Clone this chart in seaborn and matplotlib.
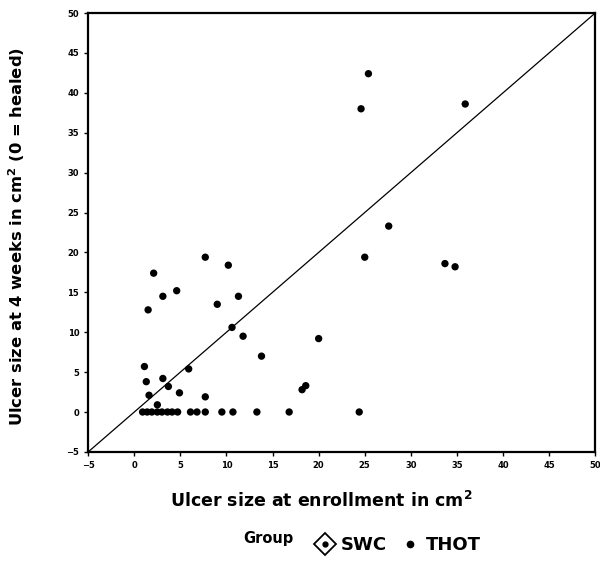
import matplotlib
matplotlib.use("Agg")
import matplotlib.pyplot as plt
from matplotlib.lines import Line2D
from matplotlib.legend_handler import HandlerTuple
import pandas as pd
import seaborn as sns

# ulcer size at enrollment (x) and at 4 weeks (y), cm^2
enroll = [25.4, 24.6, 35.9, 7.7, 10.2, 2.1, 4.6, 3.1, 11.3, 9.0, 1.5, 11.8, 10.6,
          27.6, 25.0, 33.7, 34.8, 20.0, 18.2, 18.6, 13.8, 1.1, 5.9, 1.3, 3.1,
          3.7, 4.9, 1.6, 7.7, 2.5,
          0.9, 1.4, 1.9, 2.5, 3.0, 3.6, 4.1, 4.7, 6.1, 6.8, 7.7, 9.5, 10.7,
          13.3, 16.8, 24.4]
week4 = [42.4, 38.0, 38.6, 19.4, 18.4, 17.4, 15.2, 14.5, 14.5, 13.5, 12.8, 9.5, 10.6,
         23.3, 19.4, 18.6, 18.2, 9.2, 2.8, 3.3, 7.0, 5.7, 5.4, 3.8, 4.2,
         3.2, 2.4, 2.1, 1.9, 0.9,
         0, 0, 0, 0, 0, 0, 0, 0, 0, 0, 0, 0, 0,
         0, 0, 0]
group = ["THOT", "SWC"] * 23
ticks = list(range(-5, 51, 5))

df = pd.DataFrame({"enroll": enroll, "week4": week4, "Group": group})

sns.set_theme(style="white")
plt.rcParams["font.family"] = ["DejaVu Sans"]
plt.rcParams["text.color"] = "black"
plt.rcParams["axes.labelcolor"] = "black"

fig = plt.figure(figsize=(6, 5.67), dpi=100)
ax = fig.add_axes([0.147, 0.203, 0.845, 0.774])

sns.scatterplot(data=df, x="enroll", y="week4", style="Group",
                markers={"SWC": "o", "THOT": "o"}, color="black",
                s=28, edgecolor="black", linewidth=0, legend=False, ax=ax)

# line of no change
ax.axline((0, 0), slope=1, color="black", lw=0.9)

ax.set_xlim(-5, 50)
ax.set_ylim(-5, 50)
ax.set_xticks(ticks)
ax.set_yticks(ticks)
ax.tick_params(labelsize=6, length=3, width=1, direction="out",
               bottom=True, left=True, colors="black")
for lab in ax.get_xticklabels() + ax.get_yticklabels():
    lab.set_fontweight("bold")
for sp in ax.spines.values():
    sp.set_color("black")
    sp.set_linewidth(1.6)

ax.set_xlabel("Ulcer size at enrollment in cm$^\\mathbf{2}$", fontsize=12.5,
              fontweight="bold")
ax.xaxis.set_label_coords(0.46, -0.09)
ax.set_ylabel("Ulcer size at 4 weeks in cm$^\\mathbf{2}$ (0 = healed)", fontsize=11.8,
              fontweight="bold")
ax.yaxis.set_label_coords(-0.12, 0.49)

# legend below the plot
fig.text(0.405, 0.051, "Group", fontsize=10.5, fontweight="bold",
         ha="left", va="center")
swc = (Line2D([], [], marker="D", ls="", markersize=11, markerfacecolor="white",
              markeredgecolor="black", markeredgewidth=1.3),
       Line2D([], [], marker="o", ls="", markersize=3.5, color="black"))
thot = Line2D([], [], marker="o", ls="", markersize=4.5, color="black")
fig.legend([swc, thot], ["SWC", "THOT"], loc="center left",
           bbox_to_anchor=(0.50, 0.039), ncol=2, frameon=False,
           handler_map={tuple: HandlerTuple(ndivide=1, pad=0)},
           handlelength=1.0, handletextpad=0.35, columnspacing=0.8,
           prop={"size": 13, "weight": "bold"})

fig.savefig("out.png", dpi=100)
